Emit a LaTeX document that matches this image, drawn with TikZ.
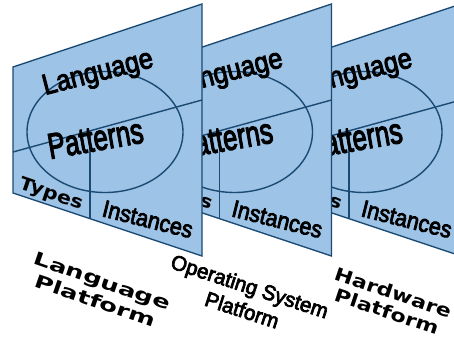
\documentclass[tikz,border=0pt]{standalone}
\usepackage{fontspec}
\setmainfont{Liberation Sans}
\newfontfamily\heavyfont{Liberation Sans}[FakeBold=3.5]
\newfontfamily\widefont{DejaVu Sans}
\definecolor{panelfill}{HTML}{9DC3E6}
\definecolor{panelline}{HTML}{1B4A73}
\begin{document}
\begin{tikzpicture}[x=1bp,y=-1bp,
  panel/.style={fill=panelfill, draw=panelline, line width=1.4bp, line join=miter},
  divider/.style={draw=panelline, line width=1.4bp},
  paneltext/.style={inner sep=0pt, anchor=base west, text=black},
  platlabel/.style={inner sep=0pt, align=center, text=black}
]
\useasboundingbox (0,0) rectangle (454,340);
\begin{scope}
\clip (0,0) rectangle (454,340);
\foreach \i/\s in {3/259bp, 2/129.5bp, 1/0bp} {
  \begin{scope}[xshift=\s]
    \coordinate (tl\i) at (13,67);
    \coordinate (tr\i) at (202,4);
    \coordinate (br\i) at (202,256);
    \coordinate (bl\i) at (13,193);
    \draw[panel] (tl\i) -- (tr\i) -- (br\i) -- (bl\i) -- cycle;
    \coordinate (hl\i) at (13,152);
    \coordinate (hr\i) at (202,100);
    \draw[divider] (hl\i) -- (hr\i);
    \coordinate (ec\i) at (105,132);
    \draw[divider] (ec\i) ellipse [x radius=78, y radius=60.5];
    \coordinate (vt\i) at (90,130.8);
    \coordinate (vb\i) at (90,218.7);
    \draw[divider] (vt\i) -- (vb\i);
    \node[paneltext, rotate=14.5, xscale=0.88, font=\heavyfont\fontsize{29}{34}\selectfont] (lang\i) at (45,95) {Language};
    \node[paneltext, rotate=10, xscale=0.72, font=\heavyfont\fontsize{36}{42}\selectfont] (pat\i) at (50,159) {Patterns};
    \node[paneltext, rotate=-19, xscale=1.15, font=\widefont\bfseries\fontsize{18}{20}\selectfont] (typ\i) at (18,188) {Types};
    \node[paneltext, rotate=-14, xscale=0.9, font=\heavyfont\fontsize{24}{28}\selectfont] (inst\i) at (101,216) {Instances};
  \end{scope}
}
\end{scope}
\node[platlabel, rotate=-19, xscale=1.45, font=\widefont\bfseries\fontsize{18}{21}\selectfont] (lp) at (99,291) {Language\\Platform};
\node[platlabel, rotate=-18, xscale=0.98, font=\heavyfont\fontsize{21}{25}\selectfont] (osp) at (246,298) {Operating System\\Platform};
\node[platlabel, rotate=-18.5, xscale=1.24, font=\widefont\bfseries\fontsize{18}{20}\selectfont] (hp) at (390,302) {Hardware\\Platform};
\end{tikzpicture}
\end{document}
